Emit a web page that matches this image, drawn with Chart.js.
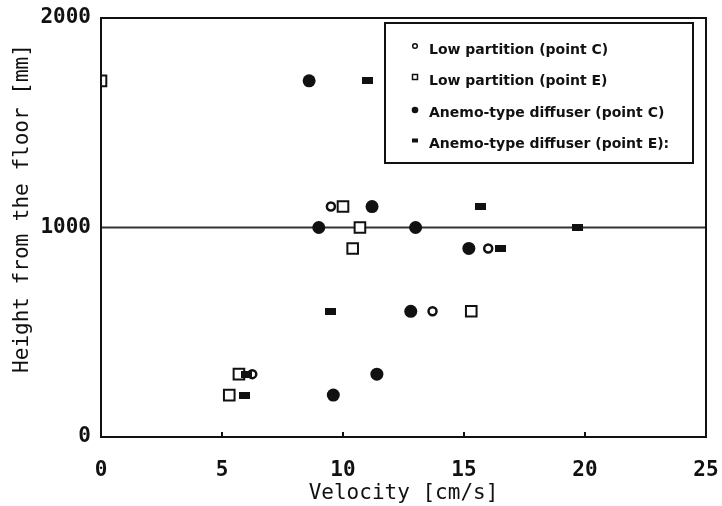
<!DOCTYPE html>
<html>
<head>
<meta charset="utf-8">
<script src="https://cdn.jsdelivr.net/npm/chart.js@4.4.1/dist/chart.umd.min.js"></script>
<style>
    html, body { margin: 0; padding: 0; background: #fff; }
</style>
</head>
<body>
<canvas id="velocityChart" width="722" height="506"></canvas>
<script>
// Series labels (legend order)
const seriesLabels = [
    "Low partition (point C)",
    "Low partition (point E)",
    "Anemo-type diffuser (point C)",
    "Anemo-type diffuser (point E):",
];

// Velocity [cm/s] and height [mm]
const lowPartitionC_v = [9.5, 16.0, 13.7, 6.25];
const lowPartitionC_h = [1100, 900, 600, 300];

const lowPartitionE_v = [0, 10.0, 10.7, 10.4, 15.3, 5.7, 5.3];
const lowPartitionE_h = [1700, 1100, 1000, 900, 600, 300, 200];

const anemoC_v = [8.6, 11.2, 9.0, 13.0, 15.2, 12.8, 11.4, 9.6];
const anemoC_h = [1700, 1100, 1000, 1000, 900, 600, 300, 200];

const anemoE_v = [11.0, 15.7, 19.7, 16.5, 9.5, 6.0, 5.95];
const anemoE_h = [1700, 1100, 1000, 900, 600, 300, 200];

// Reference line at 1000 mm
const refLine_v = [0, 25];
const refLine_h = [1000, 1000];

const xTicks = [0, 5, 10, 15, 20, 25];
const yTicks = [0, 1000, 2000];

const toPoints = (xs, ys) => xs.map((x, i) => ({ x: x, y: ys[i] }));

// little filled bar marker for the anemo E series
function barMarker(w, h) {
    const c = document.createElement("canvas");
    c.width = w;
    c.height = h;
    const g = c.getContext("2d");
    g.fillStyle = "#111";
    g.fillRect(0, 0, w, h);
    return c;
}

const ink = "#111";

// frame, inner ticks on the x axis and the boxed legend
const framePlugin = {
    id: "frame",
    afterDraw(chart) {
        const { ctx, chartArea: a, scales } = chart;
        ctx.save();
        ctx.strokeStyle = ink;
        ctx.lineWidth = 2;
        ctx.strokeRect(a.left, a.top, a.right - a.left, a.bottom - a.top);

        xTicks.slice(1, -1).forEach((v) => {
            const px = scales.x.getPixelForValue(v);
            ctx.beginPath();
            ctx.moveTo(px, a.bottom);
            ctx.lineTo(px, a.bottom - 5);
            ctx.stroke();
        });

        // legend box
        const bx = 385, by = 23, bw = 308, bh = 140;
        ctx.strokeRect(bx, by, bw, bh);
        ctx.font = "bold 14px 'DejaVu Sans'";
        ctx.textBaseline = "middle";
        ctx.fillStyle = ink;
        seriesLabels.forEach((label, i) => {
            const y = by + 27 + i * 31.5;
            const mx = bx + 30;
            ctx.lineWidth = 1.5;
            if (i === 0) {
                ctx.beginPath();
                ctx.arc(mx, y - 4, 2.3, 0, Math.PI * 2);
                ctx.stroke();
            } else if (i === 1) {
                ctx.strokeRect(mx - 2.5, y - 7, 5, 5);
            } else if (i === 2) {
                ctx.beginPath();
                ctx.arc(mx, y - 3, 3.3, 0, Math.PI * 2);
                ctx.fill();
            } else {
                ctx.fillRect(mx - 3, y - 6, 6, 4);
            }
            ctx.fillText(label, bx + 44, y);
        });
        ctx.restore();
    },
};

const tickFont = { family: "'DejaVu Sans Mono'", size: 21, weight: "bold" };
const titleFont = { family: "'DejaVu Sans Mono'", size: 21 };

const ctx = document.getElementById("velocityChart").getContext("2d");

const velocityChart = new Chart(ctx, {
    type: "scatter",
    data: {
        datasets: [
            {
                label: "ref",
                type: "line",
                data: toPoints(refLine_v, refLine_h),
                borderColor: "#333",
                borderWidth: 2,
                pointRadius: 0,
                order: 9,
            },
            {
                label: seriesLabels[0],
                data: toPoints(lowPartitionC_v, lowPartitionC_h),
                pointStyle: "circle",
                pointRadius: 4,
                borderWidth: 2.5,
                borderColor: ink,
                backgroundColor: "#fff",
                order: 4,
            },
            {
                label: seriesLabels[1],
                data: toPoints(lowPartitionE_v, lowPartitionE_h),
                pointStyle: "rect",
                pointRadius: 7.5,
                borderWidth: 2,
                borderColor: ink,
                backgroundColor: "#fff",
                order: 3,
            },
            {
                label: seriesLabels[2],
                data: toPoints(anemoC_v, anemoC_h),
                pointStyle: "circle",
                pointRadius: 6.5,
                borderWidth: 0,
                backgroundColor: ink,
                order: 2,
            },
            {
                label: seriesLabels[3],
                data: toPoints(anemoE_v, anemoE_h),
                pointStyle: barMarker(11, 7),
                pointRadius: 5,
                borderWidth: 0,
                backgroundColor: ink,
                order: 1,
            },
        ],
    },
    options: {
        responsive: false,
        animation: false,
        layout: { padding: { top: 18, right: 16, left: 0, bottom: 0 } },
        plugins: {
            legend: { display: false },
            tooltip: { enabled: false },
        },
        scales: {
            x: {
                type: "linear",
                min: 0,
                max: 25,
                afterBuildTicks: (s) => { s.ticks = xTicks.map((v) => ({ value: v })); },
                afterFit: (s) => {
                    s.height = 69;
                    s.paddingLeft = 0;
                    s.paddingRight = 0;
                },
                grid: { display: false, drawTicks: false },
                border: { color: ink, width: 2 },
                ticks: {
                    color: ink,
                    padding: 21,
                    font: tickFont,
                    callback: (v) => String(v),
                },
                title: {
                    display: true,
                    text: "Velocity [cm/s]",
                    color: ink,
                    padding: { top: 0, bottom: 0 },
                    font: titleFont,
                },
            },
            y: {
                type: "linear",
                min: 0,
                max: 2000,
                afterBuildTicks: (s) => { s.ticks = yTicks.map((v) => ({ value: v })); },
                afterFit: (s) => {
                    s.width = 101;
                    s.paddingTop = 0;
                    s.paddingBottom = 0;
                },
                grid: { display: false, drawTicks: false },
                border: { color: ink, width: 2 },
                ticks: {
                    color: ink,
                    padding: 10,
                    font: tickFont,
                    callback: (v) => String(v),
                },
                title: {
                    display: true,
                    text: "   Height from the floor [mm]",
                    color: ink,
                    padding: { top: 10, bottom: 0 },
                    font: titleFont,
                },
            },
        },
    },
    plugins: [framePlugin],
});
</script>
</body>
</html>
